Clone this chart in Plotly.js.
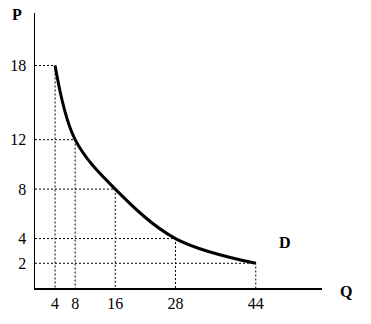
<!DOCTYPE html>
<html>
<head>
<meta charset="utf-8">
<script src="https://cdn.plot.ly/plotly-3.0.1.min.js"></script>
<style>html,body{margin:0;padding:0;background:#fff;}#chart{width:371px;height:324px;}</style>
</head>
<body>
<div id="chart"></div>
<script>
const quantity = [4, 8, 16, 28, 44];
const price = [18, 12, 8, 4, 2];
const xTickLabels = ['4', '8', '16', '28', '44'];
const yTickLabels = ['2', '4', '8', '12', '18'];
const yTickVals = [2, 4, 8, 12, 18];

const FONT = 'Liberation Serif, Times New Roman, serif';
const traces = [];
// dotted guide lines
quantity.forEach((q, i) => {
  traces.push({
    x: [0, q, q], y: [price[i], price[i], 0],
    mode: 'lines', type: 'scatter',
    line: {color: '#000', width: 1, dash: '2px,2px'},
    hoverinfo: 'skip', showlegend: false
  });
});
// demand curve
traces.push({
  x: quantity, y: price, mode: 'lines', type: 'scatter',
  line: {color: '#000', width: 3, shape: 'spline', smoothing: 1.0},
  hoverinfo: 'skip', showlegend: false
});

const layout = {
  width: 371, height: 324,
  margin: {l: 35, r: 49, t: 13, b: 36},
  paper_bgcolor: '#fff', plot_bgcolor: '#fff',
  font: {family: FONT, size: 16, color: '#000'},
  xaxis: {
    range: [0, 57.2], showgrid: false, zeroline: false,
    showline: true, linecolor: '#000', linewidth: 1.5,
    tickmode: 'array', tickvals: quantity, ticktext: xTickLabels,
    ticks: '', tickfont: {family: FONT, size: 16, color: '#000'}
  },
  yaxis: {
    range: [0, 22.25], showgrid: false, zeroline: false,
    showline: true, linecolor: '#000', linewidth: 1.5,
    tickmode: 'array', tickvals: yTickVals, ticktext: yTickLabels,
    ticks: '', ticklabelstandoff: 4, tickfont: {family: FONT, size: 16, color: '#000'}
  },
  annotations: [
    {text: '<b>P</b>', xref: 'paper', yref: 'paper', x: -0.063, y: 0.993, xanchor: 'center', yanchor: 'middle', showarrow: false, font: {family: FONT, size: 16}},
    {text: '<b>Q</b>', xref: 'paper', yref: 'paper', x: 1.084, y: -0.011, xanchor: 'center', yanchor: 'middle', showarrow: false, font: {family: FONT, size: 16}},
    {text: '<b>D</b>', xref: 'paper', yref: 'paper', x: 0.871, y: 0.164, xanchor: 'center', yanchor: 'middle', showarrow: false, font: {family: FONT, size: 16}}
  ]
};

Plotly.newPlot('chart', traces, layout, {staticPlot: true, displayModeBar: false});
</script>
</body>
</html>
